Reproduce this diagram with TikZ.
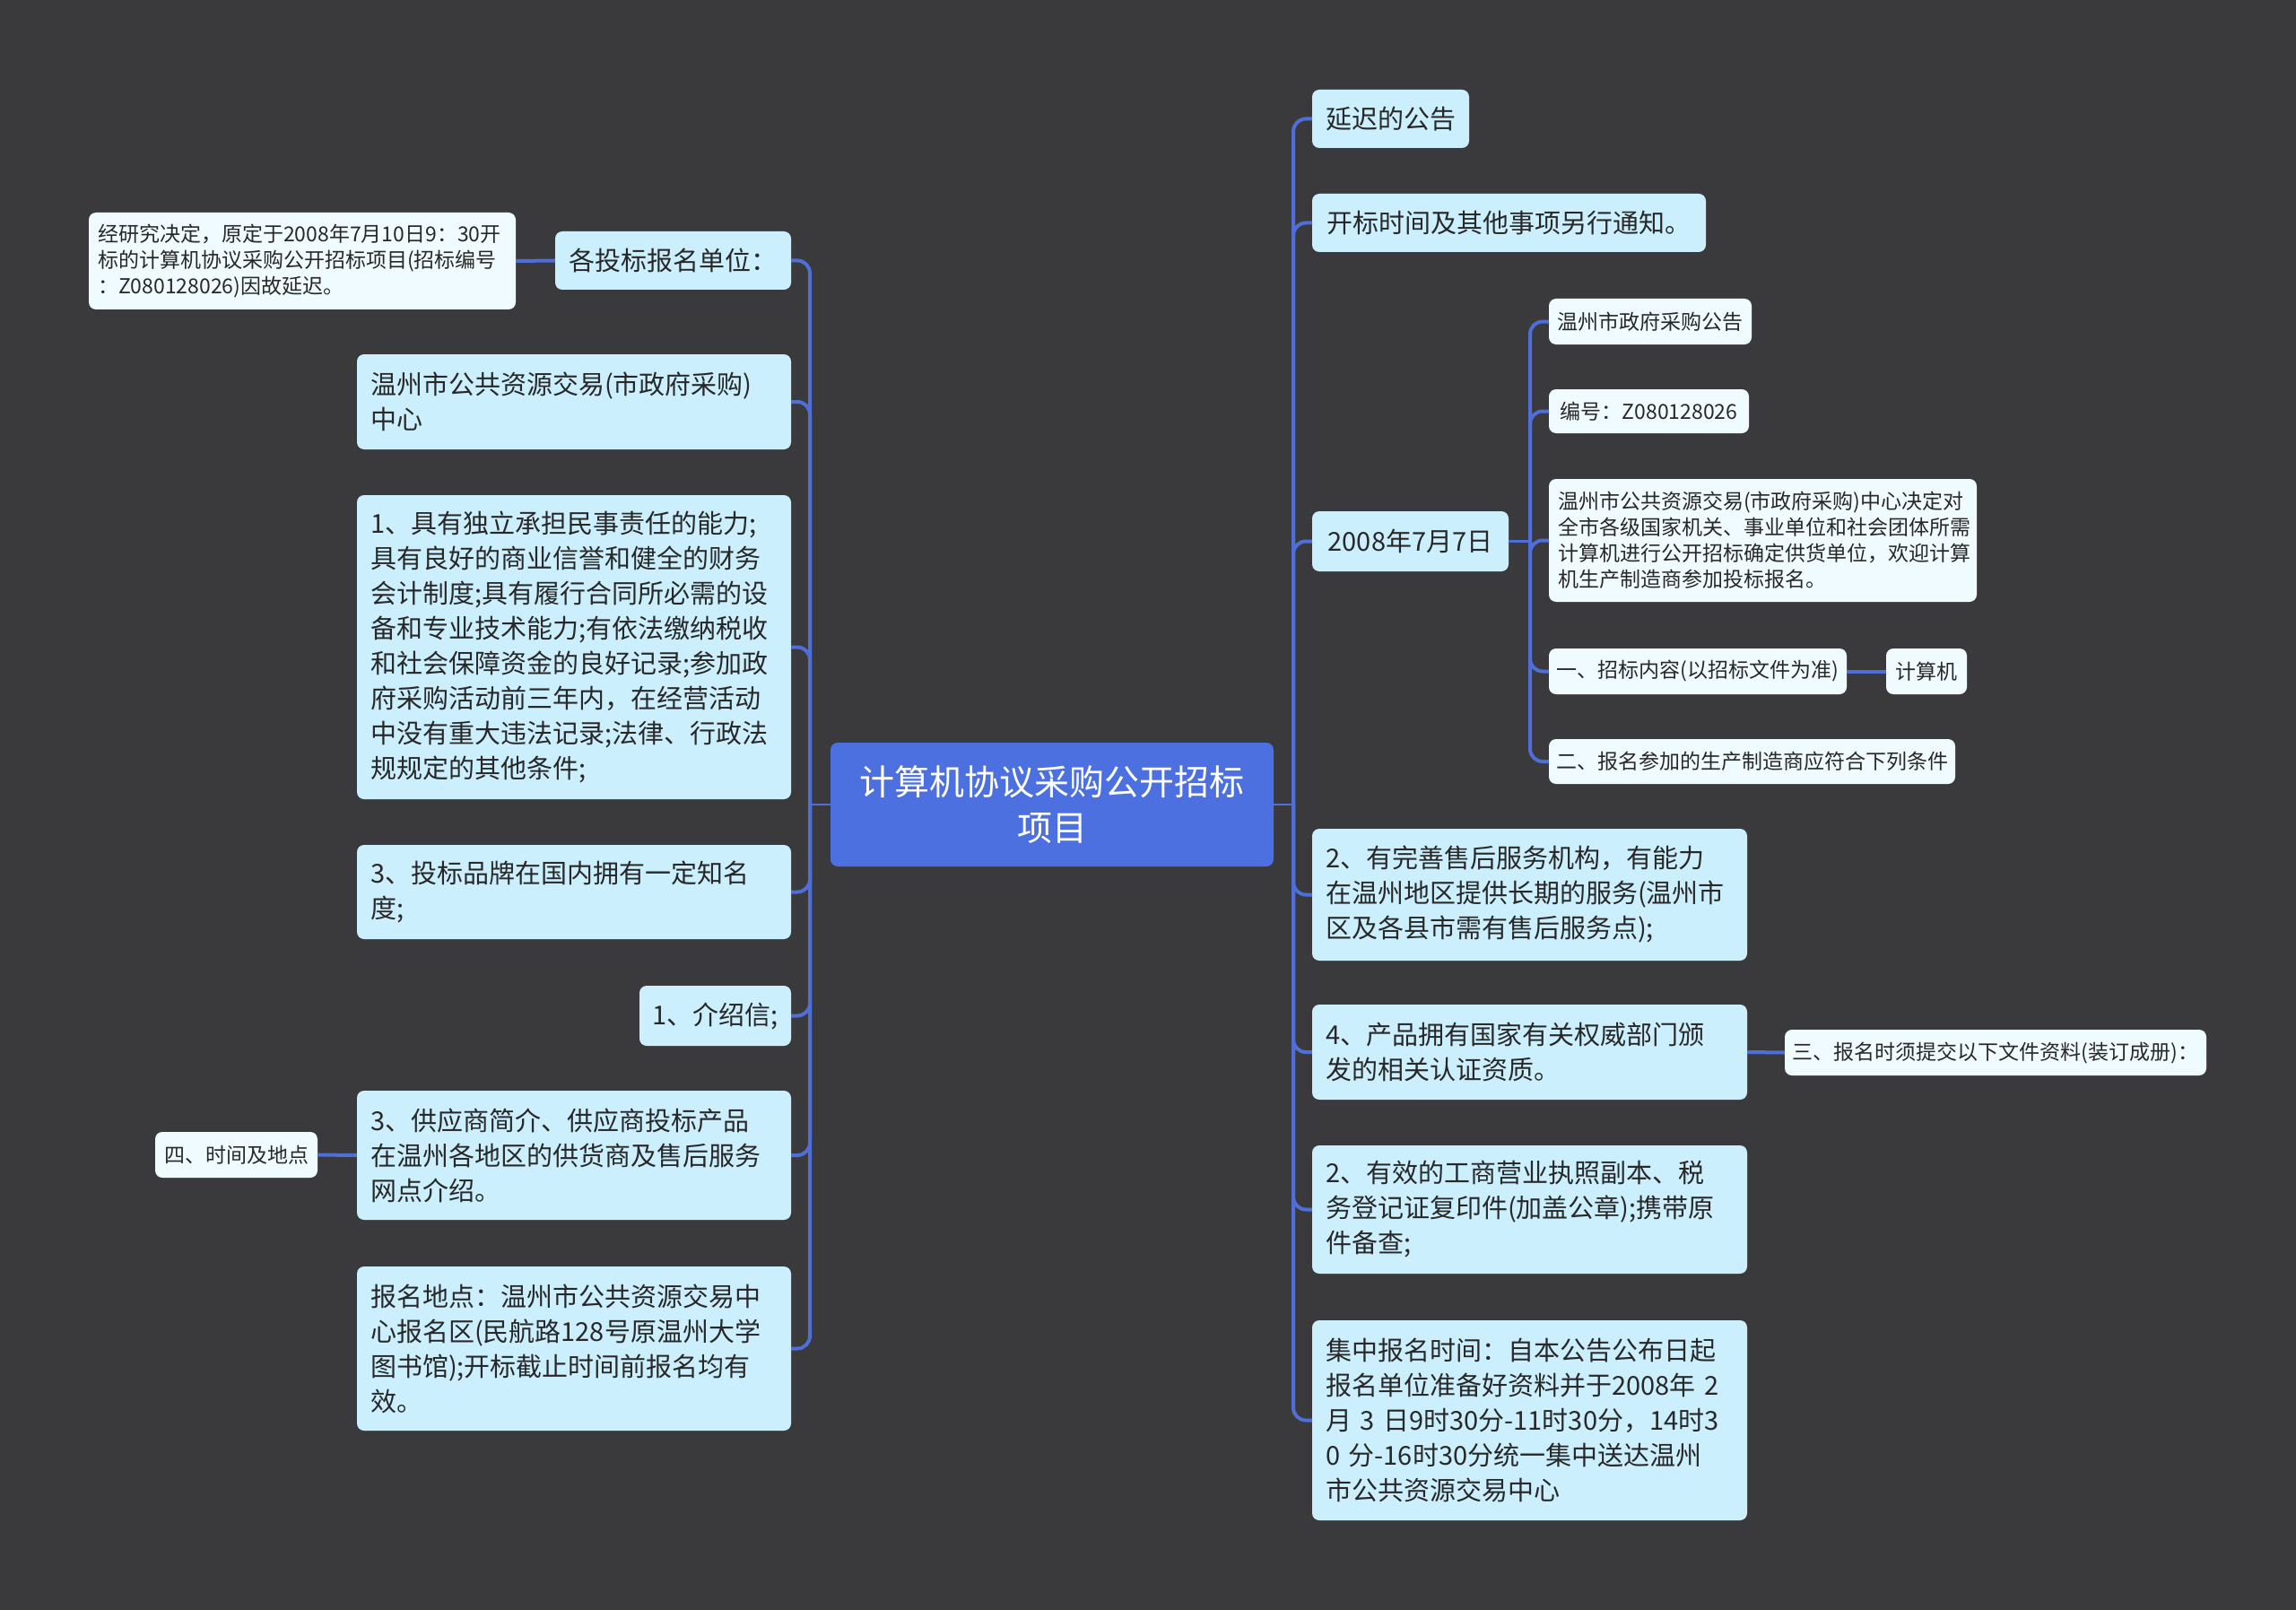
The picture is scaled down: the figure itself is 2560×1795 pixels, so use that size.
\documentclass[tikz,border=0pt]{standalone}
\usepackage{fontspec}
\newfontfamily\cjk{Noto Sans CJK SC}
\definecolor{bgc}{RGB}{58,58,60}
\definecolor{lb}{RGB}{204,239,253}
\definecolor{wb}{RGB}{240,251,255}
\definecolor{cen}{RGB}{76,112,223}
\definecolor{lnc}{RGB}{80,110,215}
\definecolor{txt}{RGB}{40,40,40}
\tikzset{
  base/.style={rounded corners=8pt, inner ysep=0pt, text=txt},
  mainbox/.style={base, fill=lb, font=\cjk\fontsize{29}{39}\selectfont},
  smallbox/.style={base, fill=wb, font=\cjk\fontsize{23}{29}\selectfont},
  multi/.style={align=left, inner xsep=15pt},
  smulti/.style={align=left, inner xsep=10pt},
  single/.style={align=center, inner xsep=4pt},
  centerbox/.style={base, fill=cen, text=white, align=center, font=\cjk\fontsize{39}{51}\selectfont},
  conn/.style={draw=lnc, line width=4pt, rounded corners=14pt},
  thinconn/.style={draw=lnc, line width=2.5pt}
}
\begin{document}
\begin{tikzpicture}[x=1pt,y=-1pt]
\useasboundingbox (0,0) rectangle (2560,1795);
\fill[bgc] (0,0) rectangle (2560,1795);

% center
\node[centerbox, minimum width=494pt, minimum height=138pt] (c) at (1173,897) {计算机协议采购公开招标\\项目};

% left side
\node[mainbox, single, minimum width=263pt, minimum height=65pt] (l1) at (750.5,290.5) {各投标报名单位：};
\node[smallbox, smulti, text width=456pt, minimum height=108pt] (l2) at (337,291) {经研究决定，原定于2008年7月10日9：30开\\标的计算机协议采购公开招标项目(招标编号\\：Z080128026)因故延迟。};
\node[mainbox, multi, text width=454pt, minimum height=106pt] (l3) at (640,448) {温州市公共资源交易(市政府采购)\\中心};
\node[mainbox, multi, text width=454pt, minimum height=339pt] (l4) at (640,721.5) {1、具有独立承担民事责任的能力;\\具有良好的商业信誉和健全的财务\\会计制度;具有履行合同所必需的设\\备和专业技术能力;有依法缴纳税收\\和社会保障资金的良好记录;参加政\\府采购活动前三年内，在经营活动\\中没有重大违法记录;法律、行政法\\规规定的其他条件;};
\node[mainbox, multi, text width=454pt, minimum height=105pt] (l5) at (640,994.5) {3、投标品牌在国内拥有一定知名\\度;};
\node[mainbox, single, minimum width=169pt, minimum height=67pt] (l6) at (797.5,1132.5) {1、介绍信;};
\node[mainbox, multi, text width=454pt, minimum height=144pt] (l7) at (640,1288) {3、供应商简介、供应商投标产品\\在温州各地区的供货商及售后服务\\网点介绍。};
\node[smallbox, single, minimum width=181pt, minimum height=51pt] (l8) at (263.5,1287.5) {四、时间及地点};
\node[mainbox, multi, text width=454pt, minimum height=183pt] (l9) at (640,1503.5) {报名地点：温州市公共资源交易中\\心报名区(民航路128号原温州大学\\图书馆);开标截止时间前报名均有\\效。};

% right side
\node[mainbox, single, minimum width=175pt, minimum height=65pt] (r1) at (1550.5,132.5) {延迟的公告};
\node[mainbox, single, minimum width=439pt, minimum height=65pt] (r2) at (1682.5,248.5) {开标时间及其他事项另行通知。};
\node[mainbox, single, minimum width=219pt, minimum height=67pt] (r3) at (1572.5,603.5) {2008年7月7日};
\node[smallbox, single, minimum width=226pt, minimum height=51pt] (r3a) at (1840,358.5) {温州市政府采购公告};
\node[smallbox, single, minimum width=223pt, minimum height=49pt] (r3b) at (1838.5,458.5) {编号：Z080128026};
\node[smallbox, smulti, text width=457pt, minimum height=137pt] (r3c) at (1965.5,602.5) {温州市公共资源交易(市政府采购)中心决定对\\全市各级国家机关、事业单位和社会团体所需\\计算机进行公开招标确定供货单位，欢迎计算\\机生产制造商参加投标报名。};
\node[smallbox, single, minimum width=332pt, minimum height=51pt] (r3d) at (1893,748.5) {一、招标内容(以招标文件为准)};
\node[smallbox, single, minimum width=90pt, minimum height=51pt] (r3f) at (2148,748.5) {计算机};
\node[smallbox, single, minimum width=453pt, minimum height=50pt] (r3e) at (1953.5,849) {二、报名参加的生产制造商应符合下列条件};
\node[mainbox, multi, text width=455pt, minimum height=147pt] (r4) at (1705.5,997.5) {2、有完善售后服务机构，有能力\\在温州地区提供长期的服务(温州市\\区及各县市需有售后服务点);};
\node[mainbox, multi, text width=455pt, minimum height=106pt] (r5) at (1705.5,1173) {4、产品拥有国家有关权威部门颁\\发的相关认证资质。};
\node[smallbox, single, minimum width=470pt, minimum height=51pt] (r5a) at (2225,1173.5) {三、报名时须提交以下文件资料(装订成册)：};
\node[mainbox, multi, text width=455pt, minimum height=143pt] (r6) at (1705.5,1348.5) {2、有效的工商营业执照副本、税\\务登记证复印件(加盖公章);携带原\\件备查;};
\node[mainbox, multi, text width=455pt, minimum height=223pt] (r7) at (1705.5,1583.5) {集中报名时间：自本公告公布日起\\报名单位准备好资料并于2008年~2\\月~3~日9时30分-11时30分，14时3\\0~分-16时30分统一集中送达温州\\市公共资源交易中心};

% trunk junctions
\coordinate (lj) at (903,897);
\coordinate (rj) at (1442,897);
\coordinate (sj) at (1706,603.5);

\draw[thinconn] (c.west) -- (lj);
\draw[thinconn] (c.east) -- (rj);
\foreach \n in {l1,l3,l4,l5,l6,l7,l9}{
  \draw[conn] (lj) |- (\n.east);
}
\foreach \n in {r1,r2,r3,r4,r5,r6,r7}{
  \draw[conn] (rj) |- (\n.west);
}
\draw[thinconn] (r3.east) -- (sj);
\foreach \n in {r3a,r3b,r3c,r3d,r3e}{
  \draw[conn] (sj) |- (\n.west);
}
\draw[conn] (l1.west) -- (l2.east);
\draw[conn] (l7.west) -- (l8.east);
\draw[conn] (r3d.east) -- (r3f.west);
\draw[conn] (r5.east) -- (r5a.west);
\end{tikzpicture}
\end{document}
